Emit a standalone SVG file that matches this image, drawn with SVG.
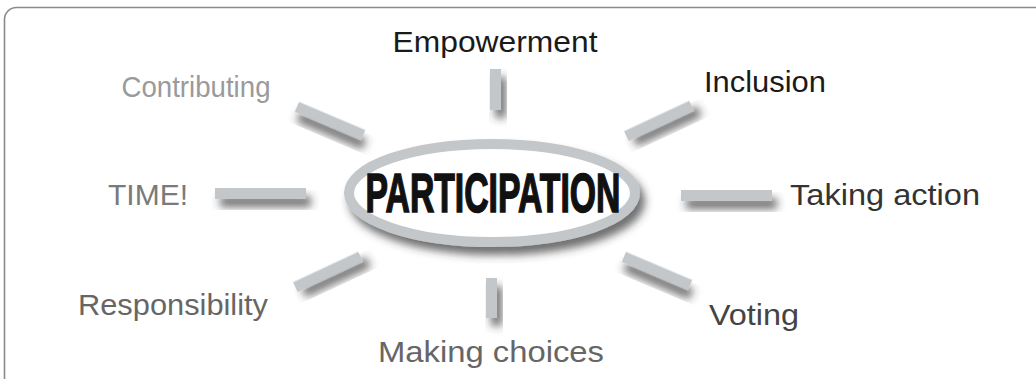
<svg xmlns="http://www.w3.org/2000/svg" width="1036" height="379" viewBox="0 0 1036 379">
<defs>
<filter id="sh" x="-50%" y="-50%" width="200%" height="250%">
<feGaussianBlur in="SourceAlpha" stdDeviation="4.5"/>
<feOffset dx="5" dy="8" result="b"/>
<feFlood flood-color="#333" flood-opacity="0.7"/>
<feComposite in2="b" operator="in"/>
<feMerge><feMergeNode/><feMergeNode in="SourceGraphic"/></feMerge>
</filter>
<style>
.bar{fill:#c3c7ca;filter:url(#sh)}
.lbl{font-family:"Liberation Sans",Arial,sans-serif;font-size:30px;text-anchor:middle}
</style>
</defs>
<rect x="4.5" y="7.5" width="1060" height="400" rx="12" fill="#fff" stroke="#8a8a8a" stroke-width="1.6"/>
<g id="connectors">
<rect class="bar" x="490" y="69" width="11" height="41"/>
<rect class="bar" x="486" y="278" width="11" height="40"/>
<rect class="bar" x="215" y="188" width="91" height="11"/>
<rect class="bar" x="681" y="190" width="91" height="11"/>
<rect class="bar" x="294" y="115.5" width="72" height="11" transform="rotate(23 330 121)"/>
<rect class="bar" x="623" y="115.5" width="72" height="11" transform="rotate(-25 659 121)"/>
<rect class="bar" x="621" y="265.5" width="72" height="11" transform="rotate(23 657 271)"/>
<rect class="bar" x="292" y="266.5" width="72" height="11" transform="rotate(-25 328 272)"/>
</g>
<g id="center">
<ellipse cx="492" cy="193" rx="143" ry="49" fill="#fff" stroke="#c3c7ca" stroke-width="10" filter="url(#sh)"/>
<text x="493" y="212" font-family="'Liberation Sans',Arial,sans-serif" font-weight="bold" font-size="55" textLength="255" lengthAdjust="spacingAndGlyphs" text-anchor="middle" fill="#111" stroke="#111" stroke-width="1.6">PARTICIPATION</text>
</g>
<g id="empowerment"><text class="lbl" x="495" y="52" fill="#1a1a1a" textLength="205" lengthAdjust="spacingAndGlyphs">Empowerment</text></g>
<g id="inclusion"><text class="lbl" x="765" y="92" fill="#1a1a1a" textLength="122" lengthAdjust="spacingAndGlyphs">Inclusion</text></g>
<g id="taking-action"><text class="lbl" x="885" y="205" fill="#333" textLength="190" lengthAdjust="spacingAndGlyphs">Taking action</text></g>
<g id="voting"><text class="lbl" x="754" y="325" fill="#444" textLength="90" lengthAdjust="spacingAndGlyphs">Voting</text></g>
<g id="making-choices"><text class="lbl" x="491" y="362" fill="#666" textLength="226" lengthAdjust="spacingAndGlyphs">Making choices</text></g>
<g id="responsibility"><text class="lbl" x="173" y="315" fill="#666" textLength="190" lengthAdjust="spacingAndGlyphs">Responsibility</text></g>
<g id="time"><text class="lbl" x="148" y="205" fill="#7a7a7a" textLength="80" lengthAdjust="spacingAndGlyphs">TIME!</text></g>
<g id="contributing"><text class="lbl" x="196" y="97" fill="#9a9a9a" textLength="149" lengthAdjust="spacingAndGlyphs">Contributing</text></g>
</svg>
